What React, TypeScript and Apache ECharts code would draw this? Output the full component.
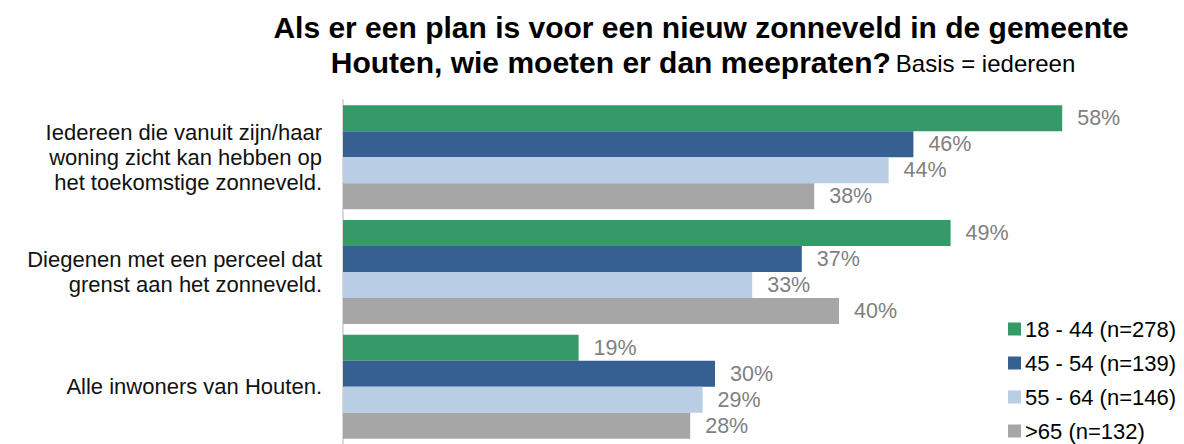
import React, { useEffect, useRef } from "react";
import * as echarts from "echarts";

const categories = [
  "Iedereen die vanuit zijn/haar\nwoning zicht kan hebben op\nhet toekomstige zonneveld.",
  "Diegenen met een perceel dat\ngrenst aan het zonneveld.",
  "Alle inwoners van Houten.",
];
const seriesNames = ["18 - 44 (n=278)", "45 - 54 (n=139)", "55 - 64 (n=146)", ">65 (n=132)"];
const values18_44 = [58, 49, 19];
const values45_54 = [46, 37, 30];
const values55_64 = [44, 33, 29];
const values65 = [38, 40, 28];
const colors = ["#359a67", "#376092", "#b9cde5", "#a6a6a6"];

const FONT = "'Liberation Sans', Arial, sans-serif";

export default function App() {
  const ref = useRef<HTMLDivElement>(null);
  useEffect(() => {
    document.body.style.margin = "0";
    const chart = echarts.init(ref.current!, null, { renderer: "svg" });
    const all = [values18_44, values45_54, values55_64, values65];
    chart.setOption({
      animation: false,
      textStyle: { fontFamily: FONT },
      title: [
        {
          text: "Als er een plan is voor een nieuw zonneveld in de gemeente",
          left: 701,
          top: 12,
          padding: 0,
          textAlign: "center",
          textStyle: { fontSize: 30, fontWeight: "bold", color: "#000", fontFamily: FONT },
        },
        {
          text: "{b|Houten, wie moeten er dan meepraten?} {n|Basis = iedereen}",
          left: 703,
          top: 47,
          padding: 0,
          textAlign: "center",
          textStyle: {
            fontFamily: FONT,
            rich: {
              b: { fontSize: 30, fontWeight: "bold", color: "#000", fontFamily: FONT },
              n: { fontSize: 24, fontWeight: "normal", color: "#000", fontFamily: FONT, padding: [3, 0, 0, 0] },
            },
          },
        },
      ],
      legend: {
        orient: "vertical",
        left: 1008,
        top: 318,
        height: 140,
        padding: 0,
        itemWidth: 13,
        itemHeight: 13,
        itemGap: 12,
        icon: "rect",
        textStyle: { fontSize: 22, color: "#000", fontFamily: FONT, padding: [0, 0, 0, -1] },
        data: seriesNames,
      },
      grid: { left: 343, top: 100, width: 744, height: 351, containLabel: false },
      xAxis: { type: "value", min: 0, max: 60, show: false },
      yAxis: {
        type: "category",
        inverse: true,
        data: categories,
        axisLine: { show: true, lineStyle: { color: "#d9d9d9", width: 2 } },
        axisTick: { show: false },
        axisLabel: { fontSize: 22, color: "#111", lineHeight: 25, margin: 21, fontFamily: FONT, align: "right" },
      },
      series: seriesNames.map((name, i) => ({
        name,
        type: "bar",
        data: all[i],
        barWidth: 26,
        barGap: "0%",
        itemStyle: { color: colors[i] },
        label: {
          show: true,
          position: "right",
          distance: 15,
          formatter: "{c}%",
          fontSize: 21.5,
          color: "#7f7f7f",
          fontFamily: FONT,
        },
      })),
    });
    return () => chart.dispose();
  }, []);
  return <div ref={ref} style={{ width: 1184, height: 444, position: "absolute", left: 0, top: 0 }} />;
}
